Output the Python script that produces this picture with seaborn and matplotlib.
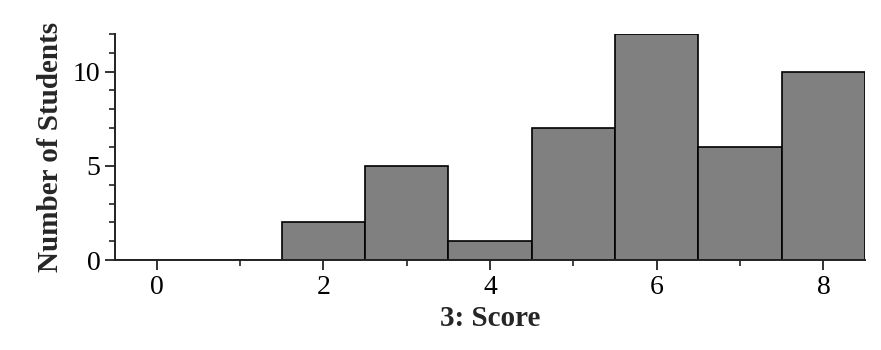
import matplotlib
matplotlib.use("Agg")
import matplotlib.pyplot as plt
import seaborn as sns
from matplotlib.ticker import MultipleLocator

scores = [0, 1, 2, 3, 4, 5, 6, 7, 8]
counts = [0, 0, 2, 5, 1, 7, 12, 6, 10]
x_label = "3: Score"
y_label = "Number of Students"

sns.set_style("ticks")
plt.rcParams['font.family'] = ['Liberation Serif', 'DejaVu Serif']

fig = plt.figure(figsize=(8.81, 3.5), dpi=100)
ax = fig.add_axes([0.1305, 0.257, 0.8515, 0.646])

sns.histplot(x=scores, weights=counts, discrete=True, ax=ax,
             color="#808080", edgecolor="black", linewidth=1.2, alpha=1.0)

ax.set_xlim(-0.5, 8.5)
ax.set_ylim(0, 12)
ax.xaxis.set_major_locator(MultipleLocator(2))
ax.xaxis.set_minor_locator(MultipleLocator(1))
ax.yaxis.set_major_locator(MultipleLocator(5))
ax.yaxis.set_minor_locator(MultipleLocator(1))

for s in ["top", "right"]:
    ax.spines[s].set_visible(False)
for s in ["left", "bottom"]:
    ax.spines[s].set_linewidth(1.4)
    ax.spines[s].set_color("#222222")

ax.tick_params(axis="both", which="major", length=7.5, width=1.3,
               colors="#222222", labelsize=20, labelcolor="black", pad=3)
ax.tick_params(axis="both", which="minor", length=4, width=1.2, colors="#222222")

ax.set_xlabel(x_label, fontsize=21, fontweight="bold", labelpad=4)
ax.set_ylabel(y_label, fontsize=21, fontweight="bold", labelpad=6)

fig.savefig("out.png", dpi=100)
